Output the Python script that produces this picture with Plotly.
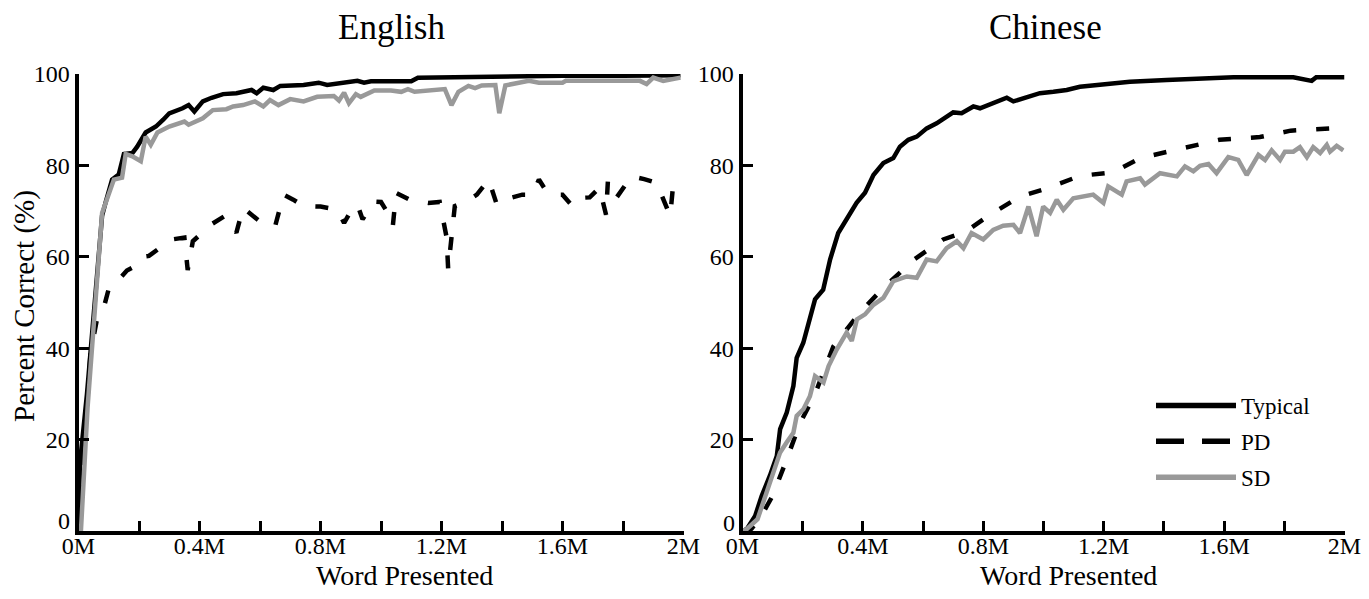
import plotly.graph_objects as go

# ---------------- data (x in millions of words, y in percent correct) ----------------
en_typ_x = [0, 0.005, 0.028, 0.055, 0.078, 0.09, 0.111, 0.133, 0.15, 0.178, 0.194, 0.222, 0.256, 0.28, 0.30,
            0.344, 0.364, 0.383, 0.411, 0.44, 0.478, 0.522, 0.572, 0.589, 0.611, 0.644, 0.667, 0.744, 0.794,
            0.822, 0.88, 0.922, 0.944, 0.967, 1.033, 1.1, 1.122, 1.25, 1.377, 1.4, 1.6, 1.8, 1.99]
en_typ_y = [0, 15, 30, 51, 69, 72, 76.9, 78, 82.5, 82.7, 84.1, 87.2, 88.5, 90, 91.4,
            92.5, 93.2, 91.8, 94, 94.8, 95.6, 95.8, 96.5, 95.8, 97, 96.5, 97.4, 97.6, 98.1,
            97.6, 98.2, 98.5, 98.1, 98.4, 98.4, 98.4, 99.2, 99.3, 99.4, 99.6, 99.6, 99.6, 99.7]

en_pd_x = [0, 0.01, 0.02, 0.03, 0.04, 0.06, 0.08, 0.1, 0.133, 0.16, 0.189, 0.21, 0.233, 0.27, 0.309,
           0.35, 0.361, 0.378, 0.41, 0.439, 0.483, 0.522, 0.544, 0.575, 0.606, 0.65, 0.678, 0.71, 0.744,
           0.8, 0.856, 0.878, 0.9, 0.922, 0.939, 0.978, 1.0, 1.028, 1.039, 1.05, 1.094, 1.156, 1.194,
           1.217, 1.222, 1.244, 1.28, 1.317, 1.356, 1.383, 1.428, 1.467, 1.5, 1.522, 1.55, 1.572, 1.6,
           1.633, 1.661, 1.69, 1.722, 1.744, 1.75, 1.778, 1.828, 1.87, 1.911, 1.956, 1.964, 1.99]
en_pd_y = [0, 10, 20, 31, 39, 46, 48, 53, 55, 57, 58, 60, 60.2, 62, 63.8,
           64.2, 57.1, 63.4, 65.5, 67.1, 68.9, 65.3, 70.7, 69, 67.4, 66.7, 73.6, 72.5, 71.1,
           71, 70.3, 67.4, 70, 71.4, 68.2, 72.1, 72, 69, 66.7, 74, 72.5, 71.8, 72,
           64.2, 57.3, 71.1, 72, 73.6, 76.9, 71.4, 72.9, 73.6, 73.6, 76.9, 74, 73.6, 73.6,
           71.1, 72.9, 73, 75.1, 69.2, 76.5, 72.9, 77.6, 77, 76.2, 68.9, 74.5, 76]

en_sd_x = [0, 0.008, 0.03, 0.055, 0.078, 0.117, 0.144, 0.156, 0.178, 0.206, 0.222, 0.239, 0.261, 0.3,
           0.35, 0.364, 0.411, 0.444, 0.489, 0.511, 0.544, 0.583, 0.611, 0.633, 0.661, 0.7, 0.744, 0.789,
           0.844, 0.861, 0.878, 0.894, 0.917, 0.933, 0.978, 1.033, 1.067, 1.089, 1.111, 1.211, 1.233,
           1.256, 1.289, 1.311, 1.333, 1.378, 1.391, 1.411, 1.489, 1.522, 1.6, 1.611, 1.856, 1.878, 1.9,
           1.933, 1.99]
en_sd_y = [0, 0, 27, 50, 69.6, 76.9, 77.3, 82.5, 82, 80.9, 86.3, 84.5, 87.2, 88.5,
           89.6, 88.9, 90.3, 92.1, 92.3, 92.9, 93.2, 94, 92.9, 94.3, 93.2, 94.5, 94, 95,
           95.2, 94.2, 95.9, 93.6, 95.6, 95, 96.4, 96.4, 96.1, 96.7, 96.1, 96.7, 93.2,
           96.1, 97.4, 96.9, 97.5, 97.6, 91.4, 97.5, 98.5, 98.1, 98.1, 98.5, 98.5, 97.8, 99.2,
           98.5, 99.2]

zh_typ_x = [0, 0.014, 0.042, 0.064, 0.091, 0.114, 0.125, 0.147, 0.169, 0.18, 0.202, 0.224, 0.241, 0.268,
            0.291, 0.318, 0.346, 0.379, 0.407, 0.435, 0.468, 0.501, 0.523, 0.551, 0.579, 0.612, 0.645,
            0.7, 0.728, 0.767, 0.789, 0.833, 0.878, 0.9, 0.944, 0.988, 1.033, 1.077, 1.121, 1.21,
            1.287, 1.409, 1.631, 1.83, 1.891, 1.906, 2.0]
zh_typ_y = [0, 0.4, 3.3, 7.7, 12.1, 16.4, 22.3, 25.9, 31.7, 37.9, 41.2, 46.3, 50.7, 52.8,
            59.4, 65.2, 68.1, 71.8, 74, 77.9, 80.5, 81.6, 84.1, 85.6, 86.3, 88.1, 89.2,
            91.6, 91.4, 92.9, 92.5, 93.6, 94.8, 94, 95, 95.8, 96.1, 96.5, 97.2, 97.8,
            98.3, 98.7, 99.3, 99.3, 98.5, 99.3, 99.3]

zh_pd_x = [0, 0.03, 0.06, 0.1, 0.147, 0.191, 0.24, 0.302, 0.39, 0.468, 0.572, 0.667, 0.739, 0.822,
           0.922, 0.999, 1.121, 1.232, 1.321, 1.451, 1.584, 1.719, 1.821, 1.954, 1.968, 1.99]
zh_pd_y = [0, 0.5, 3, 7.7, 15.7, 23.6, 29.8, 40.4, 47.8, 53.2, 59.5, 63.8, 65.4, 69.2,
           73.2, 74.7, 77.7, 78.5, 81.6, 83.6, 85.6, 86.2, 87.6, 88.1, 89.1, 89]

zh_sd_x = [0, 0.014, 0.05, 0.072, 0.1, 0.125, 0.147, 0.169, 0.18, 0.202, 0.224, 0.241, 0.269, 0.286,
           0.313, 0.346, 0.363, 0.38, 0.407, 0.435, 0.468, 0.501, 0.546, 0.579, 0.612, 0.645, 0.678,
           0.712, 0.734, 0.761, 0.8, 0.833, 0.866, 0.9, 0.922, 0.95, 0.977, 0.999, 1.022, 1.044, 1.066,
           1.099, 1.165, 1.199, 1.215, 1.26, 1.276, 1.321, 1.337, 1.387, 1.443, 1.47, 1.498, 1.52,
           1.548, 1.575, 1.614, 1.647, 1.675, 1.714, 1.736, 1.758, 1.786, 1.802, 1.83, 1.852, 1.875,
           1.896, 1.919, 1.941, 1.952, 1.974, 1.996]
zh_sd_y = [0, 0.4, 2.6, 7, 12.1, 17.2, 19.4, 21.5, 25.2, 26.6, 29.5, 33.9, 32.5, 36.1,
           39.7, 43.4, 41.6, 46.3, 47.4, 49.5, 51, 54.7, 55.7, 55.4, 59.4, 59, 61.9,
           63.4, 61.9, 65.2, 63.8, 65.9, 66.8, 67, 65.2, 71, 64.5, 71, 69.6, 72.5, 70.3,
           72.8, 73.6, 71.8, 75.4, 73.6, 76.5, 77.2, 75.8, 78.3, 77.6, 79.8, 78.7, 79.9,
           80.3, 78.3, 81.8, 81.2, 77.9, 82.3, 81.2, 83.3, 81.2, 83, 83, 84, 81.8,
           84, 82.7, 84.5, 83, 84.3, 83.3]

x_tick_vals = [0, 0.2, 0.4, 0.6, 0.8, 1.0, 1.2, 1.4, 1.6, 1.8, 2.0]
x_tick_text = ["0M", "", "0.4M", "", "0.8M", "", "1.2M", "", "1.6M", "", "2M"]
y_tick_vals = [0, 20, 40, 60, 80, 100]
y_tick_text = ["", "20", "40", "60", "80", "100"]   # the "0" label sits a little higher, drawn below
y_zero_label = "0"
panel_titles = ["English", "Chinese"]
series_names = ["Typical", "PD", "SD"]
x_title = "Word Presented"
y_title = "Percent Correct (%)"

# ---------------- styling ----------------
OFF = 8                      # page body margin of the html page
W, H = 1369 - 2 * OFF, 599 - 2 * OFF
FONT = "Liberation Serif, Times New Roman, serif"
BLACK = "#000000"
GRAY = "#999999"
LW = 4.5
PD_DASH = "13px,20px"
LEGEND_DASH = "28px,18px"
series_colors = [BLACK, BLACK, GRAY]
series_dash = ["solid", PD_DASH, "solid"]
legend_dash = ["solid", LEGEND_DASH, "solid"]


def px_x(p):
    return (p - OFF) / W


def px_y(p):
    return (H - (p - OFF)) / H


fig = go.Figure()

panels = [
    ([en_typ_x, en_pd_x, en_sd_x], [en_typ_y, en_pd_y, en_sd_y], "x", "y"),
    ([zh_typ_x, zh_pd_x, zh_sd_x], [zh_typ_y, zh_pd_y, zh_sd_y], "x2", "y2"),
]
for xs, ys, xa, ya in panels:
    for i, name in enumerate(series_names):
        fig.add_trace(go.Scatter(x=xs[i], y=ys[i], mode="lines", name=name, xaxis=xa, yaxis=ya,
                                 legendgroup=name, showlegend=False,
                                 line=dict(color=series_colors[i], width=LW, dash=series_dash[i])))

# legend keys (no data, only the key swatches shown in the Chinese panel)
for i, name in enumerate(series_names):
    fig.add_trace(go.Scatter(x=[None], y=[None], mode="lines", name=name, xaxis="x2", yaxis="y2",
                             legendgroup=name, showlegend=True,
                             line=dict(color=series_colors[i], width=5.5, dash=legend_dash[i])))

y_bottom = px_y(531)
y_top = px_y(74)

common_x = dict(range=[0, 2.0], showline=True, linewidth=4, linecolor=BLACK, ticks="inside",
                ticklen=10, tickwidth=3, tickcolor=BLACK, tickvals=x_tick_vals, ticktext=x_tick_text,
                showgrid=False, zeroline=False, tickfont=dict(family=FONT, size=24, color=BLACK),
                ticklabelstandoff=-10, ticklabeloverflow="allow", fixedrange=True, automargin=False)
common_y = dict(range=[0, 100], showline=True, linewidth=4, linecolor=BLACK, ticks="inside",
                ticklen=10, tickwidth=3, tickcolor=BLACK, tickvals=y_tick_vals, ticktext=y_tick_text,
                showgrid=False, zeroline=False, tickfont=dict(family=FONT, size=24, color=BLACK),
                ticklabeloverflow="allow",
                domain=[y_bottom, y_top], fixedrange=True, automargin=False)

fig.update_layout(
    width=W, height=H,
    margin=dict(l=0, r=0, t=0, b=0, pad=0, autoexpand=False),
    paper_bgcolor="white", plot_bgcolor="white",
    font=dict(family=FONT, color=BLACK),
    xaxis=dict(common_x, domain=[px_x(78.5), px_x(683.5)], anchor="y"),
    yaxis=dict(common_y, anchor="x"),
    xaxis2=dict(common_x, domain=[px_x(742.5), px_x(1344.5)], anchor="y2"),
    yaxis2=dict(common_y, anchor="x2"),
    legend=dict(x=px_x(1151), y=px_y(384), xanchor="left", yanchor="top",
                font=dict(family=FONT, size=23, color=BLACK), bgcolor="rgba(0,0,0,0)",
                itemwidth=80, tracegroupgap=3),
    showlegend=True,
)


def label(text, cx, cy, size, angle=0):
    return dict(text=text, x=px_x(cx), y=px_y(cy), xref="paper", yref="paper",
                xanchor="center", yanchor="middle", showarrow=False, textangle=angle,
                font=dict(family=FONT, size=size, color=BLACK))


annotations = [
    label(panel_titles[0], 391, 27, 35),
    label(panel_titles[1], 1045, 27, 35),
    label(x_title, 405, 575, 28),
    label(x_title, 1068, 575, 28),
    label(y_title, 24, 306, 29, -90),
    label(y_zero_label, 64, 521, 24),
    label(y_zero_label, 729, 523, 24),
]
fig.update_layout(annotations=annotations)

fig.write_html("out.html")
